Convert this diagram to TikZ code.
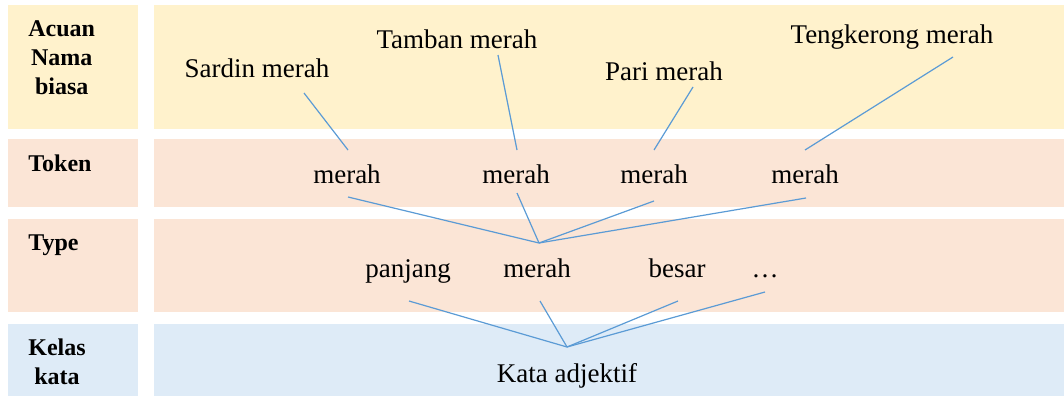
\documentclass[tikz,border=0pt]{standalone}
\usepackage{fontspec}
\setmainfont{Liberation Serif}
\usepackage{tikz}
\usetikzlibrary{calc}
\definecolor{rowyellow}{HTML}{FFF2CC}
\definecolor{rowpeach}{HTML}{FBE5D6}
\definecolor{rowblue}{HTML}{DEEBF7}
\definecolor{linkblue}{HTML}{5B9BD5}
\tikzset{
  head/.style={font=\fontsize{12}{14.5}\selectfont\bfseries, align=center, anchor=west, inner sep=0pt},
  word/.style={font=\fontsize{13.5}{16}\selectfont, anchor=base, inner sep=0pt},
  conn/.style={draw=linkblue, line width=0.6pt}
}
\begin{document}
\begin{tikzpicture}[x=0.5pt,y=-0.5pt]
\useasboundingbox (0,0) rectangle (1064,396);
% rows
\fill[rowyellow] (8,5) rectangle (138,129);
\fill[rowyellow] (154,5) rectangle (1064,129);
\fill[rowpeach] (8,139) rectangle (138,207);
\fill[rowpeach] (154,139) rectangle (1064,207);
\fill[rowpeach] (8,219) rectangle (138,312);
\fill[rowpeach] (154,219) rectangle (1064,312);
\fill[rowblue] (8,324) rectangle (138,396);
\fill[rowblue] (154,324) rectangle (1064,396);

\node[head] (hAcuan) at (28,58) {Acuan\\Nama\\biasa};
\node[head] (hToken) at (28,163) {Token};
\node[head] (hType) at (28,245) {Type};
\node[head] (hKelas) at (28,362) {Kelas\\kata};

% acuan
\node[word] (sardin) at (257,77) {Sardin merah};
\node[word] (tamban) at (457,48) {Tamban merah};
\node[word] (pari) at (664,80) {Pari merah};
\node[word] (teng) at (892,43) {Tengkerong merah};
% token
\node[word] (tokA) at (347,183) {merah};
\node[word] (tokB) at (516,183) {merah};
\node[word] (tokC) at (654,183) {merah};
\node[word] (tokD) at (805,183) {merah};
% type
\node[word] (panjang) at (408,277) {panjang};
\node[word] (typMerah) at (537,277) {merah};
\node[word] (besar) at (677,277) {besar};
\node[word] (dots) at (765,277) {\dots};
% kelas
\node[word] (adj) at (567,382) {Kata adjektif};
\coordinate (hubType) at (539,243);
\coordinate (hubKelas) at (567,347);

\draw[conn] ($(sardin.base)+(47,16)$) -- ($(tokA.base)+(1,-33)$);
\draw[conn] ($(tamban.base)+(41,7)$) -- ($(tokB.base)+(1,-33)$);
\draw[conn] ($(pari.base)+(29,7)$) -- ($(tokC.base)+(0,-33)$);
\draw[conn] ($(teng.base)+(61,14)$) -- ($(tokD.base)+(0,-33)$);

\draw[conn] ($(tokA.base)+(1,14)$) -- (hubType);
\draw[conn] ($(tokB.base)+(1,10)$) -- (hubType);
\draw[conn] ($(tokC.base)+(0,18)$) -- (hubType);
\draw[conn] ($(tokD.base)+(1,15)$) -- (hubType);

\draw[conn] ($(panjang.base)+(1,24)$) -- (hubKelas);
\draw[conn] ($(typMerah.base)+(3,24)$) -- (hubKelas);
\draw[conn] ($(besar.base)+(1,24)$) -- (hubKelas);
\draw[conn] ($(dots.base)+(0,15)$) -- (hubKelas);
\end{tikzpicture}
\end{document}
